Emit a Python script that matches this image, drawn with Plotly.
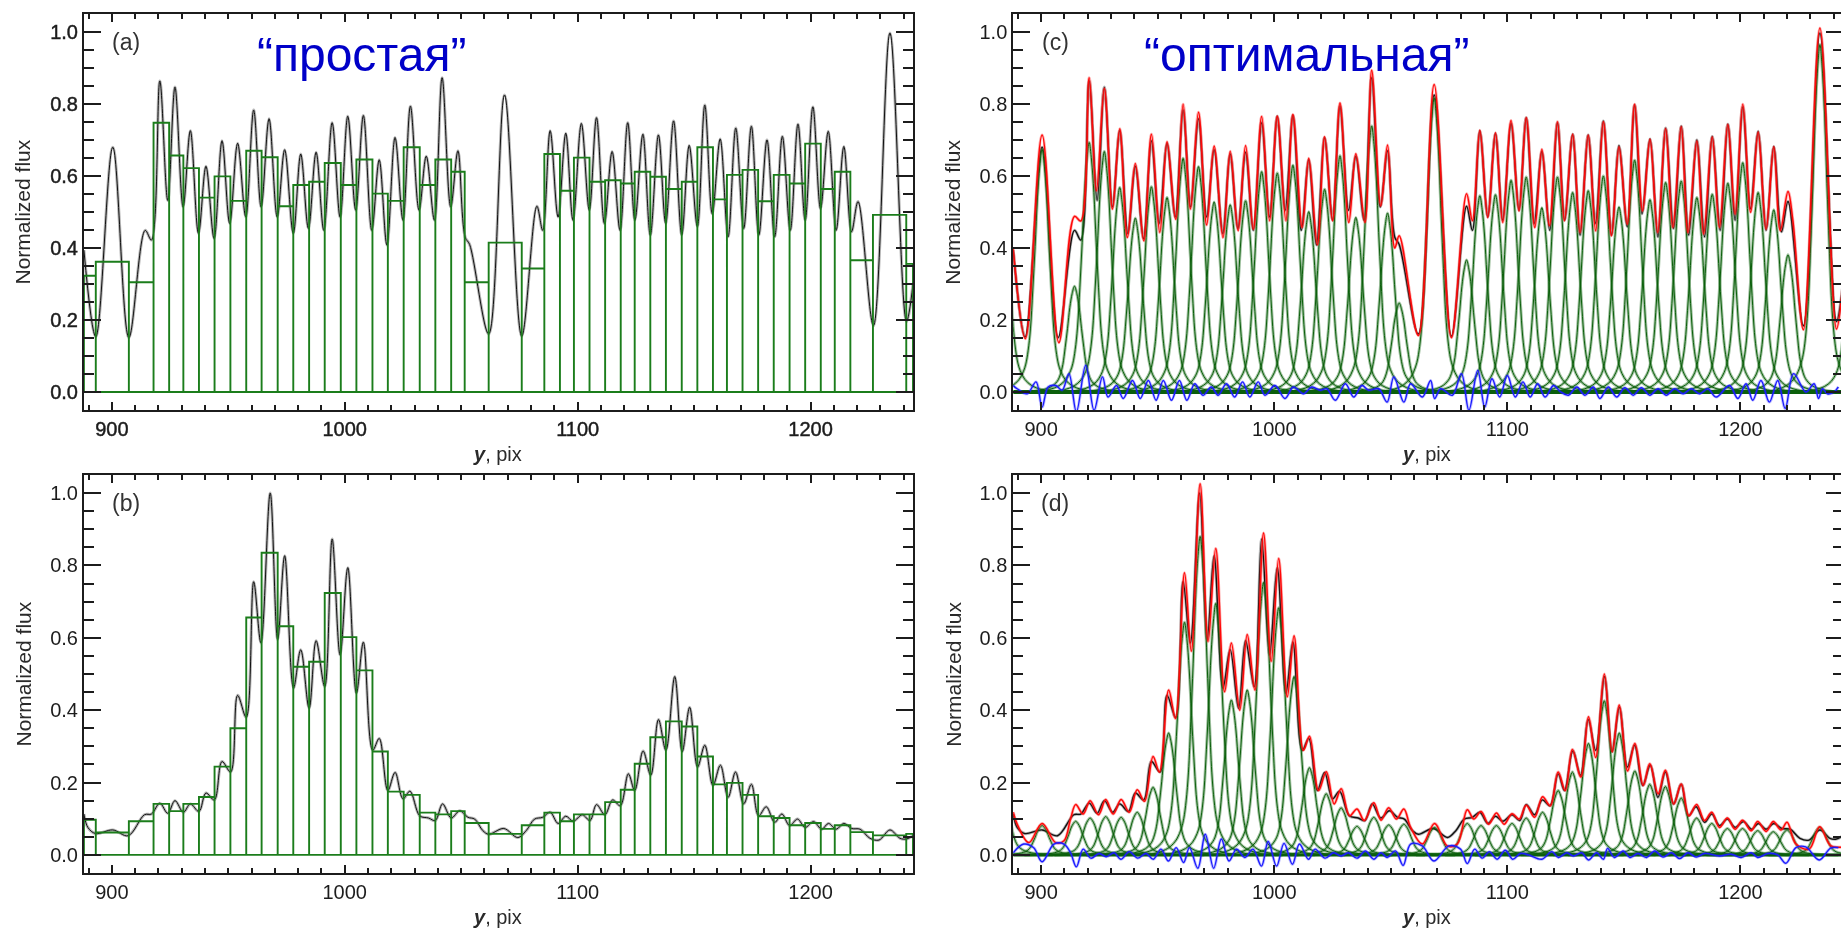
import plotly.graph_objects as go

# ---------- histogram bins (shared edges) ----------
bin_edges = [888, 893.1, 907.3, 917.9, 924.6, 930.7, 937.4, 944.1, 950.9, 957.7, 964.3, 971.2, 977.9, 984.7,
             991.4, 998.3, 1005.0, 1011.9, 1018.5, 1025.3, 1032.2, 1038.9, 1045.7, 1051.5, 1061.8, 1076.0,
             1085.7, 1092.4, 1098.4, 1105.1, 1111.8, 1118.5, 1124.5, 1131.2, 1137.9, 1144.7, 1151.4, 1158.1,
             1164.1, 1170.8, 1177.5, 1184.2, 1191.0, 1197.7, 1204.4, 1210.4, 1217.1, 1226.8, 1241.1, 1244]
bins_a = [.323, .362, .305, .748, .657, .622, .54, .599, .531, .670, .652, .516, .575, .584, .636, .575, .646,
          .551, .531, .680, .575, .646, .612, .305, .415, .343, .661, .559, .651, .584, .588, .579, .612, .598,
          .564, .584, .680, .535, .603, .617, .530, .603, .579, .690, .564, .612, .366, .492, .356]
bins_b = [.097, .062, .093, .141, .121, .141, .160, .244, .350, .656, .835, .632, .520, .534, .724, .602, .510,
          .286, .175, .166, .117, .112, .121, .088, .058, .082, .117, .093, .112, .112, .146, .180, .252, .325,
          .369, .355, .272, .195, .199, .166, .107, .102, .082, .088, .072, .082, .063, .054, .058]

# ---------- black observed profile, upper spectrum ----------
black_a_x = [888, 893.1, 900.4, 907.3, 914.3, 917, 920.6, 924, 927.1, 930.6, 933.7, 937.2, 940.4, 943.9, 947.3,
             950.6, 954, 957.5, 960.9, 964.1, 967.5, 971, 974.2, 977.9, 981.1, 984.4, 987.7, 991, 994.6, 998,
             1001.3, 1004.7, 1008, 1011.6, 1014.8, 1018.1, 1021.6, 1025, 1028.2, 1031.9, 1035, 1038.5, 1041.8,
             1045.5, 1048.6, 1051.7, 1053.6, 1061.8, 1068.6, 1076, 1082.5, 1085, 1088.2, 1091.6, 1094.9, 1098,
             1101.6, 1105, 1108.1, 1111.5, 1114.8, 1118.2, 1121.5, 1124.6, 1128, 1131.2, 1134.7, 1137.8, 1141.2,
             1144.7, 1147.9, 1151.4, 1154.6, 1157.8, 1161.2, 1164.6, 1167.9, 1171.3, 1174.6, 1177.8, 1181.3,
             1184.6, 1187.9, 1191.3, 1194.6, 1197.7, 1201, 1204.3, 1207.6, 1211, 1214.3, 1217.6, 1220.4, 1227,
             1234.1, 1241.2, 1244]
black_a_y = [.394, .153, .68, .151, .449, .422, .864, .532, .847, .514, .726, .44, .627, .426, .698, .468, .691,
             .486, .783, .514, .759, .486, .673, .44, .661, .454, .666, .449, .748, .486, .766, .505, .768, .449,
             .645, .408, .707, .477, .794, .505, .655, .477, .873, .514, .670, .43, .41, .161, .825, .155, .516,
             .449, .726, .486, .719, .477, .746, .505, .762, .468, .668, .449, .748, .477, .716, .436, .714, .468,
             .753, .436, .685, .459, .797, .495, .703, .431, .733, .454, .738, .436, .700, .431, .710, .449, .744,
             .477, .792, .509, .724, .449, .682, .445, .529, .184, .997, .196, .30]

# ---------- black observed profile, lower spectrum ----------
black_b_x = [888, 889.7, 893, 900.4, 907, 914, 917, 920.6, 924, 927.1, 930.7, 933.7, 937.4, 940.4, 944, 947.3, 951,
             954, 957.7, 960.9, 964, 968, 971.2, 974.2, 978, 981.1, 984.7, 987.7, 991.4, 994.6, 998, 1001.3, 1005,
             1008, 1012, 1014.8, 1018.5, 1021.6, 1025, 1028, 1032.2, 1036, 1038.9, 1042, 1045.7, 1049.4, 1052.9,
             1055.8, 1059.3, 1061.8, 1068.3, 1074.3, 1077.9, 1081.5, 1085, 1088.2, 1091.6, 1094.9, 1098.1, 1102,
             1105.3, 1108.1, 1111.7, 1115, 1118.3, 1121.8, 1124.5, 1128.1, 1131.4, 1134.7, 1137.9, 1141.7, 1144.9,
             1148.1, 1151.5, 1154.6, 1158.1, 1161.3, 1164.6, 1167.8, 1171.3, 1174.6, 1177.7, 1181, 1184.6, 1187.7,
             1191, 1194.4, 1197.7, 1201.3, 1204.8, 1207.7, 1211, 1214.3, 1217.7, 1221.3, 1225.5, 1229.4, 1234.1,
             1238.4, 1241.2, 1244]
black_b_y = [.113, .076, .059, .069, .053, .111, .113, .143, .115, .150, .118, .141, .120, .171, .152, .258, .229,
             .441, .380, .755, .586, 1.0, .595, .827, .461, .567, .405, .592, .465, .873, .553, .794, .447, .588,
             .289, .322, .178, .228, .155, .176, .108, .102, .095, .141, .102, .122, .104, .099, .067, .057, .073,
             .048, .067, .099, .104, .118, .087, .107, .093, .111, .095, .139, .111, .152, .136, .224, .178, .287,
             .220, .374, .289, .493, .285, .408, .243, .303, .192, .248, .159, .229, .141, .195, .108, .133, .090,
             .113, .081, .099, .076, .092, .071, .087, .071, .087, .073, .071, .046, .041, .069, .046, .044, .053]

# ---------- red model, panel (c) ----------
red_c_x = [888, 893.2, 900.4, 907.6, 914.3, 917, 920.6, 923.7, 927.1, 930.6, 933.7, 937, 940.4, 944, 947.3, 950.9,
           954, 957.7, 960.9, 964, 967.5, 971, 974.2, 978, 981.1, 984.5, 987.7, 991, 994.6, 998, 1001.3, 1005, 1008,
           1012, 1014.8, 1018.5, 1021.6, 1025, 1028.2, 1032, 1035, 1038.9, 1041.8, 1045.7, 1048.6, 1051.7, 1053.6,
           1061.8, 1068.6, 1076, 1082.5, 1085, 1088.2, 1091.6, 1094.9, 1098, 1101.6, 1105, 1108.1, 1111.8, 1114.8,
           1118, 1121.5, 1124.5, 1128, 1131.2, 1134.7, 1137.9, 1141.2, 1144.7, 1147.9, 1151.4, 1154.6, 1158, 1161.2,
           1164.5, 1167.9, 1171, 1174.6, 1177.5, 1181.3, 1184.2, 1187.9, 1191, 1194.6, 1197.7, 1201, 1204.4, 1207.6,
           1211, 1214.3, 1217.1, 1220.4, 1222.5, 1227, 1234.1, 1241.2, 1244]
red_c_y = [.397, .148, .714, .137, .488, .475, .873, .559, .843, .508, .731, .429, .635, .42, .716, .443, .695, .48,
           .799, .508, .777, .464, .683, .429, .669, .448, .685, .452, .765, .476, .766, .476, .771, .457, .649,
           .409, .709, .476, .803, .471, .662, .471, .894, .517, .686, .40, .434, .157, .854, .151, .551, .476, .727,
           .485, .72, .471, .754, .503, .762, .457, .674, .462, .751, .476, .716, .443, .713, .448, .751, .434, .681,
           .466, .799, .503, .702, .443, .731, .457, .737, .443, .697, .439, .708, .457, .743, .494, .799, .499,
           .722, .452, .681, .448, .557, .476, .173, 1.011, .175, .30]

# ---------- red model, panel (d) ----------
red_d_x = [888, 889.7, 894.7, 900.4, 906.2, 909.8, 912.6, 914.8, 918, 921, 924.6, 927.7, 930.9, 934.3, 937.8, 941.2,
           944.3, 948, 950.7, 954.7, 957.6, 961.5, 964.4, 968.2, 971.6, 974.9, 978.7, 981.6, 985.2, 988.4, 991.7,
           995.4, 998.7, 1001.9, 1005.6, 1008.5, 1012.5, 1015.1, 1019, 1022.3, 1025.7, 1028.7, 1032.3, 1035.5, 1038.6,
           1042.7, 1045.8, 1049.1, 1052.4, 1055.6, 1058.5, 1063.5, 1068.8, 1074.2, 1078.5, 1082.8, 1085.6, 1088.7,
           1092, 1095.3, 1098.6, 1102, 1105.1, 1108.1, 1111.7, 1115.1, 1118.4, 1121.8, 1124.8, 1127.9, 1131.5, 1134.8,
           1137.9, 1141.6, 1145, 1148, 1151.6, 1154.7, 1158.3, 1161.1, 1164.7, 1167.8, 1171.4, 1174.6, 1177.9, 1181.2,
           1184.6, 1187.7, 1191, 1194.4, 1197.7, 1200.9, 1204.6, 1207.4, 1211, 1214.1, 1217.4, 1220, 1223.8, 1229.5,
           1234, 1238.8, 1244]
red_d_y = [.118, .085, .034, .087, .034, .039, .099, .139, .113, .150, .111, .153, .113, .153, .118, .180, .148,
           .272, .229, .456, .377, .780, .563, 1.026, .590, .847, .451, .586, .400, .609, .456, .890, .535, .819,
           .437, .606, .289, .328, .178, .230, .141, .183, .108, .127, .095, .144, .096, .130, .099, .127, .076,
           .030, .087, .025, .030, .125, .099, .120, .085, .116, .085, .114, .099, .137, .104, .161, .136, .229,
           .178, .291, .215, .382, .269, .500, .285, .414, .232, .308, .192, .252, .169, .234, .141, .196, .108,
           .139, .095, .118, .076, .102, .071, .096, .067, .092, .065, .092, .069, .090, .030, .016, .078, .025, .022]

# ---------- blue residuals ----------
blue_c_x = [887.9, 889.7, 894, 897.8, 900.4, 903, 906.2, 909, 911.9, 915.1, 919.1, 922.7, 926.3, 928.7, 932.3, 935.2,
            939.2, 942.5, 946, 949.3, 952.4, 955.9, 959.3, 962.5, 965.9, 969.4, 973, 975.9, 979.5, 983, 986.4, 989.5,
            993.1, 996, 1000.3, 1004.6, 1008.2, 1012.5, 1016.1, 1019.7, 1022.6, 1026.2, 1030.5, 1034.1, 1037.6,
            1040.5, 1044.8, 1048.4, 1051.3, 1055.6, 1058.5, 1063.5, 1067.1, 1068.8, 1071.4, 1076.4, 1080.3, 1083.5,
            1087.3, 1090.3, 1093.4, 1096.7, 1100, 1103.4, 1106.7, 1109.8, 1113, 1116.2, 1119.8, 1122.9, 1126.2,
            1129.8, 1133.3, 1136.9, 1139.7, 1143.3, 1146.9, 1150.4, 1154, 1157.5, 1161.1, 1164.7, 1168.2, 1171.8,
            1175.4, 1178.9, 1182.5, 1186, 1189.6, 1195.3, 1198.9, 1202.4, 1205.3, 1208.8, 1212.4, 1216, 1219.2,
            1222.8, 1228.1, 1231.6, 1233.5, 1235.2, 1237.3, 1240.2, 1242]
blue_c_y = [.018, .009, -.005, .028, -.042, .014, .018, .005, .051, -.055, .074, -.051, .042, -.014, .018, -.018,
            .032, -.018, .032, -.023, .032, -.023, .032, -.023, .023, -.009, .014, -.009, .023, -.014, .028, -.014,
            .028, -.009, .018, -.018, .014, -.005, .014, .005, .009, -.023, .023, -.014, .018, .005, .009, -.028,
            .042, -.028, .023, -.014, .032, -.018, .009, -.009, .051, -.051, .060, -.042, .037, -.014, .046, -.014,
            .028, -.014, .023, -.014, .018, 0, -.009, .014, -.009, .014, -.018, .014, -.014, .012, -.009, .012,
            -.009, .009, -.009, .009, -.005, .009, -.005, .009, -.014, .018, -.018, .023, -.023, .032, -.028, .032,
            -.046, .051, 0, .023, -.018, .009, -.005, 0, .014]
blue_d_x = [888, 892.5, 896.8, 900.4, 905.5, 909.8, 912.6, 915.1, 918, 921.3, 924.9, 927.9, 931.3, 934.2, 937.8, 941.4,
            945, 948.1, 951.4, 954.6, 957.9, 961.1, 963.6, 967.2, 970.4, 974, 977.3, 980.6, 983.8, 987.4, 990.9, 994.5,
            997.4, 1001, 1004.2, 1007.8, 1010.8, 1014.7, 1017.5, 1021.8, 1025.4, 1028.7, 1031.8, 1035.5, 1039.1,
            1042.7, 1045.8, 1048.4, 1052, 1055.3, 1058.5, 1063.5, 1068.5, 1074.9, 1079.9, 1082.8, 1086, 1089.2, 1092.3,
            1095.6, 1099.1, 1102.3, 1105.6, 1109.1, 1114.8, 1119.1, 1121.9, 1125.5, 1128.3, 1131.9, 1134.8, 1138.3,
            1141.2, 1143, 1145.9, 1149.7, 1152.6, 1156.1, 1159.7, 1163.2, 1166.8, 1170.4, 1173.9, 1177.5, 1181, 1184.6,
            1191, 1196, 1200.3, 1204.6, 1207.4, 1211.7, 1216, 1219.5, 1223.8, 1228, 1233.8, 1238.7, 1242]
blue_d_y = [.006, .030, .020, -.019, .030, .030, .006, -.033, .016, -.009, .004, -.005, .006, -.012, .009, -.009, .004,
            -.012, .016, -.017, .020, -.021, .020, -.037, .057, -.037, .044, -.017, .016, -.007, .016, -.031, .037,
            -.031, .032, -.026, .030, -.012, .016, -.009, .006, -.003, .006, -.009, .011, -.012, .006, -.007, .011,
            -.029, .030, .025, -.017, .025, .016, -.024, .016, -.009, .009, -.012, .013, -.012, .004, 0, -.012, .009,
            -.007, .006, -.003, .006, -.014, .006, -.012, .018, -.007, .011, -.007, .004, -.007, .011, -.006, .006,
            -.010, .006, -.006, .004, -.003, .002, -.007, .006, -.007, .004, 0, -.023, .020, .022, -.014, .019, .020]

# ---------- green fitted components (centres and heights) ----------
green_c_x = [883, 900.4, 914.3, 920.6, 927.1, 933.7, 940.4, 947.3, 954, 960.9, 967.5, 974.2, 981.1, 987.7, 994.6,
             1001.3, 1008, 1014.8, 1021.6, 1028.2, 1035, 1041.8, 1048.6, 1053.6, 1068.6, 1082.5, 1088.2, 1094.9, 1101.6,
             1108.1, 1114.8, 1121.5, 1128, 1134.7, 1141.2, 1147.9, 1154.6, 1161.2, 1167.9, 1174.6, 1181.3, 1187.9,
             1194.6, 1201, 1207.6, 1214.3, 1220.4, 1234.1, 1249]
green_c_y = [.70, .674, .294, .693, .668, .568, .483, .570, .540, .649, .626, .528, .520, .531, .612, .608, .630, .501,
             .563, .656, .485, .739, .497, .247, .817, .367, .545, .548, .588, .597, .512, .597, .554, .559, .600, .514,
             .644, .534, .582, .586, .540, .549, .580, .637, .554, .506, .381, .965, .60]
green_d_x = [883, 900.4, 914.8, 921, 927.7, 934.3, 941.2, 948, 954.7, 961.5, 968.2, 974.9, 981.6, 988.4, 995.4, 1001.9,
             1008.5, 1015.1, 1022.3, 1028.7, 1035.5, 1042.7, 1049.1, 1055.6, 1068.8, 1082.8, 1088.7, 1095.3, 1102,
             1108.1, 1115.1, 1121.8, 1127.9, 1134.8, 1141.6, 1148, 1154.7, 1161.1, 1167.8, 1174.6, 1181.2, 1187.7,
             1194.4, 1200.9, 1207.4, 1214.1, 1220, 1234]
green_d_y = [.22, .081, .093, .102, .106, .104, .118, .187, .337, .643, .880, .695, .428, .456, .753, .683, .493, .241,
             .169, .130, .079, .104, .083, .085, .076, .087, .081, .081, .087, .102, .118, .178, .229, .308, .426, .337,
             .232, .195, .189, .157, .102, .087, .073, .073, .067, .064, .069, .076]
# component profile as read from the isolated peak near 900 (offset, fraction of height)
profile_offset = [-22, -17, -13, -10, -8, -7, -6, -5, -4, -3, -2, -1, 0, 1, 2, 3, 4, 5, 6, 7, 8, 10, 13, 17, 22]
profile_frac = [0, .01, .025, .05, .085, .115, .17, .26, .42, .6, .80, .93, 1, .93, .80, .6, .42, .26, .17, .115, .085,
                .05, .025, .01, 0]

x_ticks = [900, 1000, 1100, 1200]
y_ticks = [0, .2, .4, .6, .8, 1.0]
x_range = [888, 1244]
y_range = [-.05, 1.05]
panel_letters = ["(a)", "(b)", "(c)", "(d)"]
title_simple = "“простая”"
title_optimal = "“оптимальная”"

W, H = 1845, 929
FONT = "Liberation Sans"
INK = "#1c1c1c"
GREEN_STEP = "#1b7d1b"
GREEN_DARK = "#0b5f0b"

# pixel boxes of the panels: left, right, top, bottom
boxes = {"a": (84, 914, 14, 410), "b": (84, 914, 475, 873), "c": (1014.3, 1845, 14, 410), "d": (1014.3, 1845, 475, 873)}


def steps(edges, heights):
    xs, ys = [], []
    for i, h in enumerate(heights):
        xs += [edges[i], edges[i], edges[i + 1], edges[i + 1]]
        ys += [0, h, h, 0]
    return xs, ys


def components(centres, heights):
    xs, ys = [], []
    for c, h in zip(centres, heights):
        xs += [c + o for o in profile_offset] + [None]
        ys += [h * f for f in profile_frac] + [None]
    return xs, ys


fig = go.Figure()


def line(ax, x, y, color, width, halo=None, halo_w=3.0, shape="spline"):
    xa, ya = ("x" + ax, "y" + ax)
    if halo:
        fig.add_trace(go.Scatter(x=x, y=y, mode="lines", xaxis=xa, yaxis=ya, hoverinfo="skip",
                                 line=dict(color=halo, width=halo_w, shape=shape, smoothing=1.0)))
    fig.add_trace(go.Scatter(x=x, y=y, mode="lines", xaxis=xa, yaxis=ya, hoverinfo="skip",
                             line=dict(color=color, width=width, shape=shape, smoothing=1.0)))


BLACK_HALO = "rgba(60,60,60,0.38)"
GREEN_HALO = "rgba(30,110,30,0.42)"
RED_HALO = "rgba(255,40,40,0.38)"
BLUE_HALO = "rgba(40,40,255,0.30)"

# (a)
line("", black_a_x, black_a_y, "#111111", 1.0, BLACK_HALO)
sx, sy = steps(bin_edges, bins_a)
line("", sx, sy, GREEN_STEP, 1.9, shape="linear")
line("", list(x_range), [0, 0], GREEN_STEP, 1.9, shape="linear")
# (b)
line("2", black_b_x, black_b_y, "#111111", 1.0, BLACK_HALO)
sx, sy = steps(bin_edges, bins_b)
line("2", sx, sy, GREEN_STEP, 1.9, shape="linear")
line("2", list(x_range), [0, 0], GREEN_STEP, 1.9, shape="linear")
# (c)
line("3", black_a_x, black_a_y, "#111111", 1.4, BLACK_HALO)
gx, gy = components(green_c_x, green_c_y)
line("3", gx, gy, GREEN_DARK, 1.0, GREEN_HALO)
line("3", list(x_range), [0, 0], GREEN_DARK, 4, shape="linear")
line("3", red_c_x, red_c_y, "#ff0808", 1.5, RED_HALO)
line("3", blue_c_x, blue_c_y, "#1a1aff", 1.4, BLUE_HALO)
# (d)
line("4", black_b_x, black_b_y, "#111111", 1.4, BLACK_HALO)
gx, gy = components(green_d_x, green_d_y)
line("4", gx, gy, GREEN_DARK, 1.0, GREEN_HALO)
line("4", list(x_range), [0, 0], GREEN_DARK, 3, shape="linear")
line("4", red_d_x, red_d_y, "#ff0808", 1.5, RED_HALO)
line("4", blue_d_x, blue_d_y, "#1a1aff", 1.4, BLUE_HALO)

axis_common = dict(showline=True, linecolor=INK, linewidth=1.8, mirror="allticks", ticks="inside", showgrid=False,
                   zeroline=False, tickcolor=INK, tickwidth=1.8,
                   tickfont=dict(family=FONT, size=20, color=INK))
layout = dict(width=W, height=H, margin=dict(l=0, r=0, t=0, b=0), paper_bgcolor="white", plot_bgcolor="white",
              showlegend=False)
annotations = []
for suffix, key, letter in zip(["", "2", "3", "4"], "abcd", panel_letters):
    l, r, t, b = boxes[key]
    layout["xaxis" + suffix] = dict(axis_common, domain=[l / W, r / W], range=x_range, tickmode="array",
                                    tickvals=x_ticks, ticktext=[str(v) for v in x_ticks], ticklen=8,
                                    anchor="y" + suffix,
                                    minor=dict(dtick=10, tick0=0, ticks="inside", ticklen=5, tickwidth=1.6,
                                               tickcolor=INK, showgrid=False))
    layout["yaxis" + suffix] = dict(axis_common, domain=[1 - b / H, 1 - t / H], range=y_range, tickmode="array",
                                    tickvals=y_ticks, ticktext=[f"{v:.1f}" for v in y_ticks], ticklen=17,
                                    anchor="x" + suffix,
                                    minor=dict(dtick=.05, tick0=0, ticks="inside", ticklen=10, tickwidth=1.6,
                                               tickcolor=INK, showgrid=False))
    annotations.append(dict(text=letter, xref="paper", yref="paper", x=(l + 42) / W, y=1 - (t + 28) / H,
                            showarrow=False, xanchor="center", yanchor="middle",
                            font=dict(family=FONT, size=23, color="#333333")))
    annotations.append(dict(text="Normalized flux", xref="paper", yref="paper", x=(l - 60.5) / W,
                            y=1 - ((t + b) / 2) / H, showarrow=False, textangle=-90, xanchor="center",
                            yanchor="middle", font=dict(family=FONT, size=21, color="#2a2a2a")))
    annotations.append(dict(text="<b><i>y</i></b>, pix", xref="paper", yref="paper", x=(84 + 414 if l < 500 else 1014.3 + 414) / W,
                            y=1 - (b + 44) / H, showarrow=False, xanchor="center", yanchor="middle",
                            font=dict(family=FONT, size=20, color="#2a2a2a")))
annotations.append(dict(text=title_simple, xref="paper", yref="paper", x=362 / W, y=1 - 55 / H, showarrow=False,
                        xanchor="center", yanchor="middle", font=dict(family=FONT, size=48, color="#0000c8")))
annotations.append(dict(text=title_optimal, xref="paper", yref="paper", x=1308 / W, y=1 - 55 / H, showarrow=False,
                        xanchor="center", yanchor="middle", font=dict(family=FONT, size=48, color="#0000c8")))
layout["annotations"] = annotations
fig.update_layout(**layout)

fig.write_html("out.html", config=dict(displayModeBar=False),
               post_script="document.body.style.margin='0';document.body.style.overflow='hidden';"
                           "document.documentElement.style.overflow='hidden';"
                           "document.body.style.filter='blur(0.55px)';"
                           "document.querySelectorAll('.xtick text,.ytick text').forEach(function(t){"
                           "t.style.stroke='#1c1c1c';t.style.strokeWidth='0.45px';});")
